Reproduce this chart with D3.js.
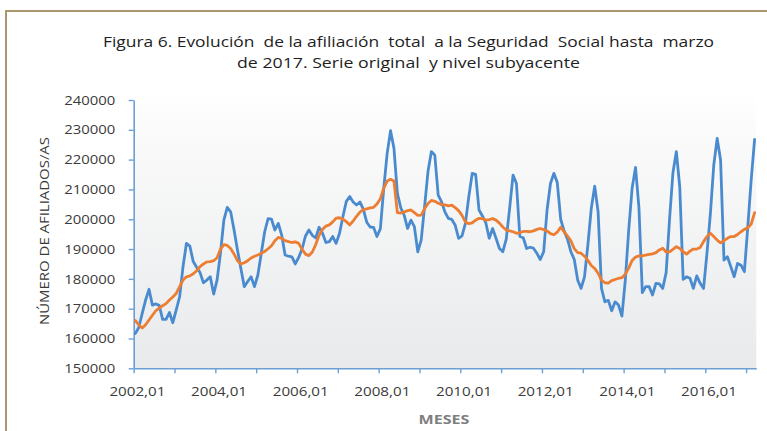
<!DOCTYPE html>
<html>
<head>
<meta charset="utf-8">
<script src="https://cdn.jsdelivr.net/npm/d3@7"></script>
<style>
  body { margin: 0; background: #fff; }
  svg { display: block; font-family: "Open Sans", "Liberation Sans", sans-serif; }
</style>
</head>
<body>
<div id="chart"></div>
<script>
// monthly categories 2002,01 .. 2017,03
const startYear = 2002;
const monthCount = 183;
const categories = d3.range(monthCount).map(i =>
    `${startYear + Math.floor(i / 12)},${String(i % 12 + 1).padStart(2, "0")}`);

const xTickLabels = ["2002,01", "2004,01", "2006,01", "2008,01", "2010,01", "2012,01", "2014,01", "2016,01"];
const yTicks = [150000, 160000, 170000, 180000, 190000, 200000, 210000, 220000, 230000, 240000];

// serie original
const original = [
    161700, 163700, 168400, 172900, 176500, 171200, 171600, 171100, 166400, 166400, 168700, 165300,
    169600, 174000, 184100, 191900, 191000, 185800, 183900, 182100, 178700, 179600, 180700, 174900,
    179600, 188600, 199700, 204000, 202500, 196400, 189700, 183500, 177400, 179100, 180700, 177400,
    181300, 188600, 195800, 200200, 200000, 196400, 198600, 194700, 188000, 187600, 187400, 185000,
    187200, 190100, 194400, 196400, 194600, 193700, 197300, 195300, 192200, 192500, 194200, 191900,
    195300, 200900, 206000, 207600, 205800, 204800, 205800, 203300, 199000, 197400, 197300, 194200,
    196800, 210400, 222100, 229700, 223800, 208700, 203800, 201400, 196900, 199700, 197500, 189100,
    193000, 204200, 216000, 222700, 221500, 208100, 205800, 202400, 200300, 199900, 198000, 193600,
    194400, 198600, 207600, 215400, 215100, 203100, 201100, 198800, 193600, 196900, 193600, 190200,
    189100, 193300, 203700, 214800, 212000, 194200, 193800, 190200, 190600, 190300, 188600, 186500,
    189100, 203100, 212000, 215400, 212300, 200000, 196100, 193300, 189100, 186500, 179600, 176800,
    180700, 191400, 203700, 211100, 202500, 176800, 172300, 172800, 169300, 172300, 171200, 167500,
    179600, 196400, 210400, 217400, 204000, 175400, 177400, 177400, 174600, 178500, 178300, 176800,
    182100, 200000, 215600, 222700, 210900, 179800, 180700, 180200, 176800, 181000, 178500, 176800,
    188600, 201800, 218200, 227100, 219900, 186300, 187400, 184100, 180700, 185200, 184600, 182400,
    197500, 213200, 226800
];

// nivel subyacente
const subyacente = [
    166000, 164600, 163500, 164600, 166200, 167800, 169300, 170200, 171000, 171700, 172900, 173900,
    175100, 177400, 179600, 180700, 181000, 181700, 182700, 184100, 185000, 185700, 185800, 186100,
    187100, 189900, 191500, 191200, 190200, 188300, 186100, 185000, 185400, 186100, 187000, 187600,
    188000, 188600, 189200, 190100, 191100, 192800, 193900, 193600, 192800, 192500, 192200, 192400,
    191900, 189900, 188300, 187800, 189000, 191500, 194600, 196600, 197700, 198100, 199100, 200400,
    200500, 200000, 199200, 198100, 199400, 201000, 202400, 203200, 203500, 203800, 204000, 205100,
    206900, 210400, 212800, 213400, 212800, 202200, 202100, 202400, 202900, 203100, 202200, 201300,
    201400, 203500, 205300, 206300, 206000, 205400, 204900, 204800, 204500, 204700, 203900, 202900,
    201300, 199100, 198500, 198800, 199700, 200300, 200200, 199700, 199900, 200200, 199700, 198700,
    197400, 196400, 196100, 195800, 195300, 195500, 195900, 195900, 195800, 196100, 196600, 196900,
    196500, 196100, 195200, 194800, 195700, 197300, 195800, 194400, 192800, 190100, 188800, 188600,
    187600, 186200, 184500, 183500, 181900, 179600, 178700, 178600, 179400, 179800, 180200, 180400,
    181600, 183600, 186200, 187300, 187700, 187700, 188000, 188200, 188400, 188800, 189700, 190300,
    189000, 189100, 189900, 190800, 190200, 189100, 188300, 189300, 190000, 190000, 190500, 192500,
    194200, 195300, 194200, 193000, 192100, 192800, 193600, 194200, 194200, 194900, 195800, 196600,
    197100, 198400, 202200
];

const width = 767, height = 431;
const plot = {left: 133.7, right: 756.3, top: 100, bottom: 368.3};
const axisColor = "#6b9fd6";

const svg = d3.select("#chart").append("svg")
    .attr("width", width)
    .attr("height", height);

const defs = svg.append("defs");
const grad = defs.append("linearGradient")
    .attr("id", "plotBg").attr("x1", 0).attr("y1", 0).attr("x2", 0).attr("y2", 1);
grad.append("stop").attr("offset", "0%").attr("stop-color", "#ffffff");
grad.append("stop").attr("offset", "12%").attr("stop-color", "#fbfbfb");
grad.append("stop").attr("offset", "100%").attr("stop-color", "#e8eaeb");

// outer frame (only left and top edges visible)
svg.append("rect")
    .attr("x", 6).attr("y", 11)
    .attr("width", 900).attr("height", 600)
    .attr("fill", "none")
    .attr("stroke", "#a38c5f")
    .attr("stroke-width", 1.8);

// title
const titleLines = [
    {text: "Figura 6. Evolución  de la afiliación  total  a la Seguridad  Social hasta  marzo", y: 46.5, len: 611},
    {text: "de 2017. Serie original  y nivel subyacente", y: 67.5, len: 343}
];
svg.append("g").selectAll("text")
    .data(titleLines)
    .enter().append("text")
    .attr("x", 408.5).attr("y", d => d.y)
    .attr("text-anchor", "middle")
    .attr("font-size", 14.2)
    .attr("fill", "#1e1e1e")
    .attr("textLength", d => d.len)
    .attr("lengthAdjust", "spacingAndGlyphs")
    .style("white-space", "pre")
    .text(d => d.text);

const x = d3.scaleLinear().domain([0, categories.length]).range([plot.left, plot.right]);
const y = d3.scaleLinear().domain([150000, 240000]).range([plot.bottom, plot.top]);

svg.append("rect")
    .attr("x", plot.left).attr("y", plot.top - 6)
    .attr("width", plot.right - plot.left).attr("height", plot.bottom - plot.top + 6)
    .attr("fill", "url(#plotBg)");

// y axis
const yAxis = svg.append("g")
    .attr("transform", `translate(${plot.left},0)`)
    .call(d3.axisLeft(y).tickValues(yTicks).tickSize(5).tickSizeOuter(0).tickPadding(13.5)
        .tickFormat(d3.format("d")));
yAxis.select(".domain").attr("stroke", axisColor).attr("stroke-width", 1.6);
yAxis.selectAll(".tick line").attr("stroke", axisColor).attr("stroke-width", 1.4);
yAxis.selectAll(".tick text")
    .attr("font-family", "Open Sans, sans-serif")
    .attr("font-size", 13)
    .attr("fill", "#3a3a3a")
    .attr("textLength", 51)
    .attr("lengthAdjust", "spacingAndGlyphs");

// x axis
const xAxis = svg.append("g")
    .attr("transform", `translate(0,${plot.bottom})`)
    .call(d3.axisBottom(x).tickValues(d3.range(0, categories.length, 12)).tickSize(5)
        .tickSizeOuter(0).tickFormat(""));
xAxis.select(".domain").attr("stroke", axisColor).attr("stroke-width", 1.6);
xAxis.selectAll(".tick line").attr("stroke", axisColor).attr("stroke-width", 1.4);

svg.append("g").selectAll("text")
    .data(xTickLabels)
    .enter().append("text")
    .attr("x", d => x(categories.indexOf(d) + 0.5) + 2)
    .attr("y", 395.5)
    .attr("text-anchor", "middle")
    .attr("font-size", 13)
    .attr("fill", "#3a3a3a")
    .attr("textLength", 56)
    .attr("lengthAdjust", "spacingAndGlyphs")
    .text(d => d);

// axis titles
svg.append("text")
    .attr("transform", "translate(48.5,231) rotate(-90)")
    .attr("text-anchor", "middle")
    .attr("font-size", 13.5)
    .attr("fill", "#3a3a3a")
    .attr("textLength", 188)
    .attr("lengthAdjust", "spacingAndGlyphs")
    .text("NÚMERO DE AFILIADOS/AS");

svg.append("text")
    .attr("x", 444).attr("y", 423.5)
    .attr("text-anchor", "middle")
    .attr("font-size", 13)
    .attr("font-weight", "bold")
    .attr("fill", "#7f7f7f")
    .attr("textLength", 51)
    .attr("lengthAdjust", "spacingAndGlyphs")
    .text("MESES");

// series
const line = d3.line()
    .x((d, i) => x(i + 0.5))
    .y(d => y(d));

const series = [
    {name: "Serie original", values: original, color: "#4a8bd0"},
    {name: "Nivel subyacente", values: subyacente, color: "#ed7d31"}
];

svg.append("g").selectAll("path")
    .data(series)
    .enter().append("path")
    .attr("d", d => line(d.values))
    .attr("fill", "none")
    .attr("stroke", d => d.color)
    .attr("stroke-width", 2.8)
    .attr("stroke-linejoin", "round")
    .attr("stroke-linecap", "round");
</script>
</body>
</html>
